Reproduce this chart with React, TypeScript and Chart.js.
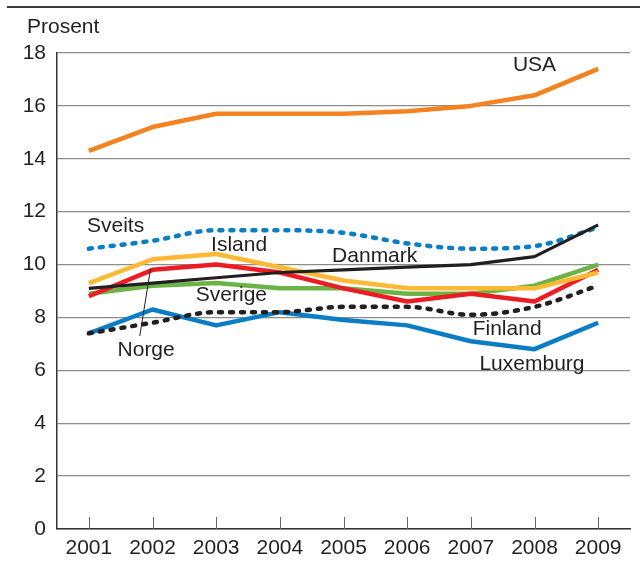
import React, { useEffect, useRef } from "react";
import { Chart, registerables } from "chart.js";

Chart.register(...registerables);

const years = ["2001", "2002", "2003", "2004", "2005", "2006", "2007", "2008", "2009"];
const usa = [14.3, 15.2, 15.7, 15.7, 15.7, 15.8, 16.0, 16.4, 17.4];
const sveits = [10.6, 10.9, 11.3, 11.3, 11.2, 10.8, 10.6, 10.7, 11.4];
const danmark = [9.1, 9.3, 9.5, 9.7, 9.8, 9.9, 10.0, 10.3, 11.5];
const island = [9.3, 10.2, 10.4, 9.9, 9.4, 9.1, 9.1, 9.1, 9.7];
const norge = [8.8, 9.8, 10.0, 9.7, 9.1, 8.6, 8.9, 8.6, 9.8];
const sverige = [8.9, 9.2, 9.3, 9.1, 9.1, 8.9, 8.9, 9.2, 10.0];
const finland = [7.4, 7.8, 8.2, 8.2, 8.4, 8.4, 8.1, 8.4, 9.2];
const luxemburg = [7.4, 8.3, 7.7, 8.2, 7.9, 7.7, 7.1, 6.8, 7.8];

const yMin = 0;
const yMax = 18;
const yStep = 2;
const yTitle = "Prosent";

// Series labels: [text, category index position, value position]
const labelNames = ["USA", "Sveits", "Island", "Danmark", "Sverige", "Norge", "Finland", "Luxemburg"];
const labelX = [7.0, 0.42, 2.36, 4.49, 2.24, 0.9, 6.57, 6.96];
const labelY = [17.55, 11.45, 10.75, 10.3, 8.85, 6.75, 7.55, 6.25];
// Norge leader line from (index, value) to (index, value)
const leaderFrom = [0.8, 7.3];
const leaderTo = [0.97, 9.85];

const FONT = "'Liberation Sans', Arial, sans-serif";
const TEXT = "#231F20";
const FSIZE = 21;

const decorPlugin = {
  id: "decor",
  beforeDraw(chart: any) {
    const ctx = chart.ctx;
    ctx.save();
    ctx.strokeStyle = "#3a3a3a";
    ctx.lineWidth = 2;
    ctx.beginPath();
    ctx.moveTo(7, 7);
    ctx.lineTo(chart.width, 7);
    ctx.stroke();
    ctx.fillStyle = TEXT;
    ctx.font = `${FSIZE}px ${FONT}`;
    ctx.textAlign = "left";
    ctx.textBaseline = "middle";
    ctx.fillText(yTitle, 27, 27);
    ctx.restore();
  },
  afterDraw(chart: any) {
    const ctx = chart.ctx;
    const xs = chart.scales.x;
    const ys = chart.scales.y;
    ctx.save();
    // inner tick marks
    ctx.strokeStyle = "#666";
    ctx.lineWidth = 1;
    const bottom = ys.getPixelForValue(yMin);
    years.forEach((_, i) => {
      const x = Math.round(xs.getPixelForValue(i)) + 0.5;
      ctx.beginPath();
      ctx.moveTo(x, bottom);
      ctx.lineTo(x, bottom - 12);
      ctx.stroke();
    });
    // labels
    ctx.fillStyle = TEXT;
    ctx.font = `${FSIZE}px ${FONT}`;
    ctx.textAlign = "center";
    ctx.textBaseline = "middle";
    labelNames.forEach((n, i) => {
      ctx.fillText(n, xs.getPixelForValue(labelX[i]), ys.getPixelForValue(labelY[i]));
    });
    // leader line
    ctx.strokeStyle = TEXT;
    ctx.lineWidth = 1;
    ctx.beginPath();
    ctx.moveTo(xs.getPixelForValue(leaderFrom[0]), ys.getPixelForValue(leaderFrom[1]));
    ctx.lineTo(xs.getPixelForValue(leaderTo[0]), ys.getPixelForValue(leaderTo[1]));
    ctx.stroke();
    ctx.restore();
  },
};

const solid = (label: string, data: number[], color: string, width = 4.5) => ({
  label,
  data,
  borderColor: color,
  backgroundColor: color,
  borderWidth: width,
  pointRadius: 0,
  tension: 0,
  fill: false,
  borderJoinStyle: "round" as const,
});

const dotted = (label: string, data: number[], color: string) => ({
  label,
  data,
  borderColor: color,
  backgroundColor: color,
  borderWidth: 4.5,
  pointRadius: 0,
  tension: 0.4,
  cubicInterpolationMode: "monotone" as const,
  fill: false,
  borderDash: [3, 8],
  borderCapStyle: "round" as const,
});

export default function App() {
  const ref = useRef<HTMLCanvasElement | null>(null);
  useEffect(() => {
    document.body.style.margin = "0";
    if (!ref.current) return;
    const chart = new Chart(ref.current, {
      type: "line",
      data: {
        labels: years,
        datasets: [
          solid("Danmark", danmark, "#231F20", 3.2),
          dotted("Finland", finland, "#231F20"),
          dotted("Sveits", sveits, "#0A7DC5"),
          solid("Island", island, "#FDB933"),
          solid("Norge", norge, "#EC1C24"),
          solid("Sverige", sverige, "#6AB344"),
          solid("Luxemburg", luxemburg, "#0A7DC5"),
          solid("USA", usa, "#F58220"),
        ],
      },
      options: {
        animation: false,
        responsive: false,
        maintainAspectRatio: false,
        layout: { padding: { top: 53, right: 10, left: 0, bottom: 0 } },
        plugins: {
          legend: { display: false },
          tooltip: { enabled: false },
          title: { display: false },
        },
        scales: {
          x: {
            offset: true,
            grid: { display: false, drawTicks: false },
            border: { display: true, color: "#333", width: 1.5 },
            ticks: {
              color: TEXT,
              font: { family: FONT, size: FSIZE },
              padding: 7,
              maxRotation: 0,
              autoSkip: false,
            },
            afterFit: (s: any) => {
              s.height = 36;
            },
          },
          y: {
            min: yMin,
            max: yMax,
            grid: { color: "#8c8c8c", lineWidth: 1.3, drawTicks: false },
            border: { display: true, color: "#333", width: 1.5 },
            ticks: {
              stepSize: yStep,
              color: TEXT,
              font: { family: FONT, size: FSIZE },
              padding: 11,
            },
            afterFit: (s: any) => {
              s.width = 57;
            },
          },
        },
      },
      plugins: [decorPlugin],
    });
    return () => chart.destroy();
  }, []);
  return (
    <div style={{ position: "absolute", left: 0, top: 0, width: 640, height: 565 }}>
      <canvas ref={ref} width={640} height={565} style={{ width: 640, height: 565 }} />
    </div>
  );
}
